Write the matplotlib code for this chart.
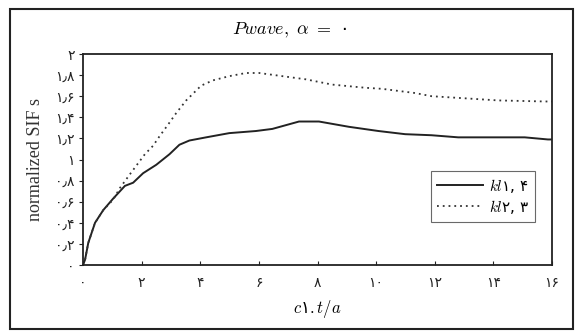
import matplotlib
matplotlib.use("Agg")
import matplotlib.pyplot as plt
from matplotlib.patches import Rectangle

plt.rcParams["mathtext.fontset"] = "cm"

# curves
x_kl1 = [0, 0.07, 0.18, 0.41, 0.69, 1.03, 1.43, 1.71, 2.05, 2.5, 2.95, 3.29, 3.63, 4.2,
         4.99, 5.9, 6.46, 7.37, 8.05, 9.07, 10.08, 10.99, 11.89, 12.8, 14.39, 15.07, 15.86, 16]
y_kl1 = [0, 0.05, 0.21, 0.4, 0.52, 0.63, 0.75, 0.78, 0.87, 0.95, 1.05, 1.14, 1.18, 1.21,
         1.25, 1.27, 1.29, 1.36, 1.36, 1.31, 1.27, 1.24, 1.23, 1.21, 1.21, 1.21, 1.19, 1.19]

x_kl2 = [0, 0.07, 0.18, 0.41, 0.69, 1.03, 1.26, 1.6, 2.11, 2.39, 2.61, 2.9, 3.18, 3.52,
         4.03, 4.43, 4.99, 5.56, 6.01, 6.8, 7.6, 8.5, 9.63, 10.2, 10.76, 11.33, 11.89,
         12.46, 13.03, 14.16, 15.75, 16]
y_kl2 = [0, 0.05, 0.21, 0.4, 0.52, 0.62, 0.73, 0.86, 1.05, 1.13, 1.22, 1.33, 1.44, 1.56,
         1.7, 1.75, 1.79, 1.82, 1.82, 1.79, 1.76, 1.71, 1.68, 1.67, 1.65, 1.63, 1.6,
         1.59, 1.58, 1.56, 1.55, 1.55]

fa = str.maketrans("0123456789.", "۰۱۲۳۴۵۶۷۸۹٫")
xticks = list(range(0, 17, 2))
yticks = [0, 0.2, 0.4, 0.6, 0.8, 1, 1.2, 1.4, 1.6, 1.8, 2]
xtick_labels = [str(v).translate(fa) for v in xticks]
ytick_labels = [("%g" % v).translate(fa) for v in yticks]

fig = plt.figure(figsize=(5.79, 3.36), dpi=100)
ax = fig.add_axes([83 / 579, 71 / 336, 469 / 579, 211 / 336])

ax.plot(x_kl1, y_kl1, color="#222222", lw=1.4, label="$kl$۱, ۴")
ax.plot(x_kl2, y_kl2, color="#333333", lw=1.3, ls=(0, (1, 2.2)), label="$kl$۲, ۳")

ax.set_xlim(0, 16)
ax.set_ylim(0, 2)
ax.set_xticks(xticks)
ax.set_xticklabels(xtick_labels, family=["DejaVu Sans"], fontsize=10)
ax.set_yticks(yticks)
ax.set_yticklabels(ytick_labels, family=["DejaVu Sans"], fontsize=10)
ax.tick_params(axis="x", direction="in", length=3, pad=8, colors="#222222")
ax.tick_params(axis="y", direction="out", length=3, pad=3, colors="#222222")
for s in ax.spines.values():
    s.set_linewidth(1.3)
    s.set_color("#222222")

ax.set_ylabel("normalized SIF s", family="Liberation Serif", fontsize=13,
              color="#333333", labelpad=8)
ax.set_xlabel("$c$۱$.t/a$", family=["DejaVu Sans"], fontsize=12, labelpad=6)
fig.text(0.5, 1 - 30 / 336, "$Pwave,\\ \\alpha\\ =$ ۰", ha="center", va="center",
         fontsize=13, family=["DejaVu Sans"])

leg = ax.legend(loc="lower right", bbox_to_anchor=(0.964, 0.204), borderaxespad=0,
                fancybox=False, edgecolor="#444444", handlelength=3,
                handletextpad=0.4, borderpad=0.4, labelspacing=0.2,
                prop={"family": ["DejaVu Sans"], "size": 11})
leg.get_frame().set_linewidth(0.8)

fig.patches.append(Rectangle((10 / 579, 7 / 336), 563 / 579, 320 / 336,
                             transform=fig.transFigure, fill=False,
                             lw=1.5, ec="#222222"))

fig.savefig("out.png", dpi=100)
